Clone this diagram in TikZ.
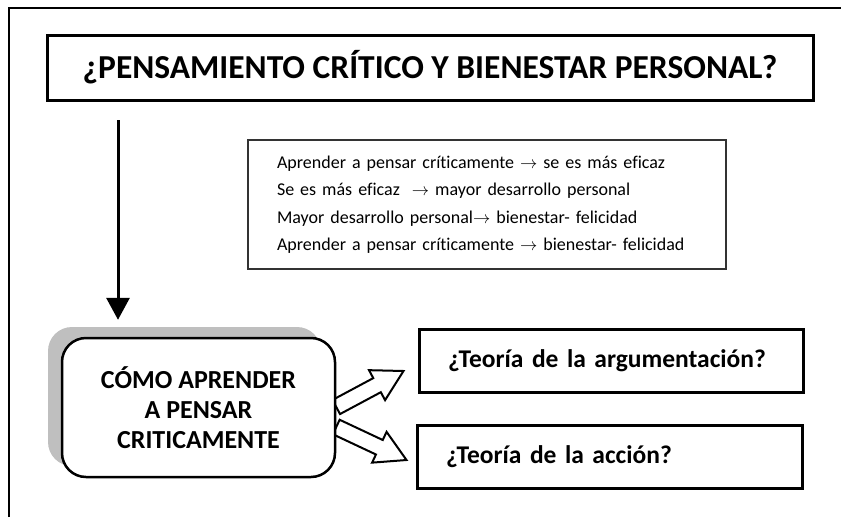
\documentclass[tikz,border=0pt]{standalone}
\usepackage{fontspec}
\setmainfont{Carlito}[Ligatures=CommonOff]
\usetikzlibrary{calc,arrows.meta,backgrounds}
\tikzset{
  framebox/.style={draw, line width=3pt, inner sep=0pt},
  titlebox/.style={framebox, minimum width=766, minimum height=65, font=\bfseries\fontsize{33.5}{38}\selectfont},
  listbox/.style={draw=black!80, line width=1.2pt, minimum width=478, minimum height=129, inner xsep=29pt, text width=420pt, align=left, font=\fontsize{18}{27.5}\selectfont},
  shadowbox/.style={fill=black!25, rounded corners=24pt, minimum width=273, minimum height=139},
  howbox/.style={draw, line width=2.5pt, fill=white, rounded corners=24pt, minimum width=273, minimum height=139, align=center, font=\bfseries\fontsize{26}{30}\selectfont},
  theorybox/.style={framebox, minimum height=63, inner xsep=29pt, align=left, font=\bfseries\fontsize{25.5}{28}\selectfont},
  blockarrow/.style={draw, line width=2pt, fill=white, line join=miter},
  downarrow/.style={line width=3pt, -{Triangle[width=23pt,length=22pt]}}
}
\newcommand{\blockarr}[3]{%
  \coordinate (#3c) at ($(#2)!30pt!(#1)$);
  \draw[blockarrow] ($(#1)!8pt!90:(#2)$) -- ($(#3c)!8pt!-90:(#1)$) -- ($(#3c)!17pt!-90:(#1)$) -- (#2)
    -- ($(#3c)!17pt!90:(#1)$) -- ($(#3c)!8pt!90:(#1)$) -- ($(#1)!8pt!-90:(#2)$) -- cycle;
}
\begin{document}
\begin{tikzpicture}[x=1pt,y=-1pt]
\useasboundingbox (0,0) rectangle (841,517);
\coordinate (fb) at (9,517);
\coordinate (fc) at (9,8);
\coordinate (fr) at (841,8);
\draw[line width=2pt] (fb) -- (fc) -- (fr);

\node[titlebox] (title) at (430,67.5) {¿PENSAMIENTO CRÍTICO Y BIENESTAR PERSONAL?};

\node[listbox] (list) at (487,204.5) {Aprender a pensar críticamente $\rightarrow$ se es más eficaz\\
Se es más eficaz \ $\rightarrow$ mayor desarrollo personal\\
Mayor desarrollo personal$\rightarrow$ bienestar- felicidad\\
Aprender a pensar críticamente $\rightarrow$ bienestar- felicidad};

\node[shadowbox] (shadow) at (184.5,396.5) {};
\node[howbox] (how) at (198.5,407.5) {CÓMO APRENDER\\A PENSAR\\CRITICAMENTE};

\coordinate (a0) at (118,120);
\draw[downarrow] (a0) -- ($(a0 |- shadow.north)+(0,-7)$);

\node[theorybox, minimum width=384, text width=326pt] (ta) at (611,360.5) {¿Teoría de la argumentación?};
\node[theorybox, minimum width=385, text width=327pt] (tb) at (609.5,457) {¿Teoría de la acción?};

\begin{scope}[on background layer]
\coordinate (s1) at ($(how.east)+(0,-0.5)$);
\coordinate (s2) at ($(how.east)+(0,19.5)$);
\coordinate (t1) at ($(ta.west)+(-14,10.5)$);
\coordinate (t2) at ($(tb.west)+(-9,3)$);
\blockarr{s1}{t1}{u}
\blockarr{s2}{t2}{l}
\end{scope}
\end{tikzpicture}
\end{document}
